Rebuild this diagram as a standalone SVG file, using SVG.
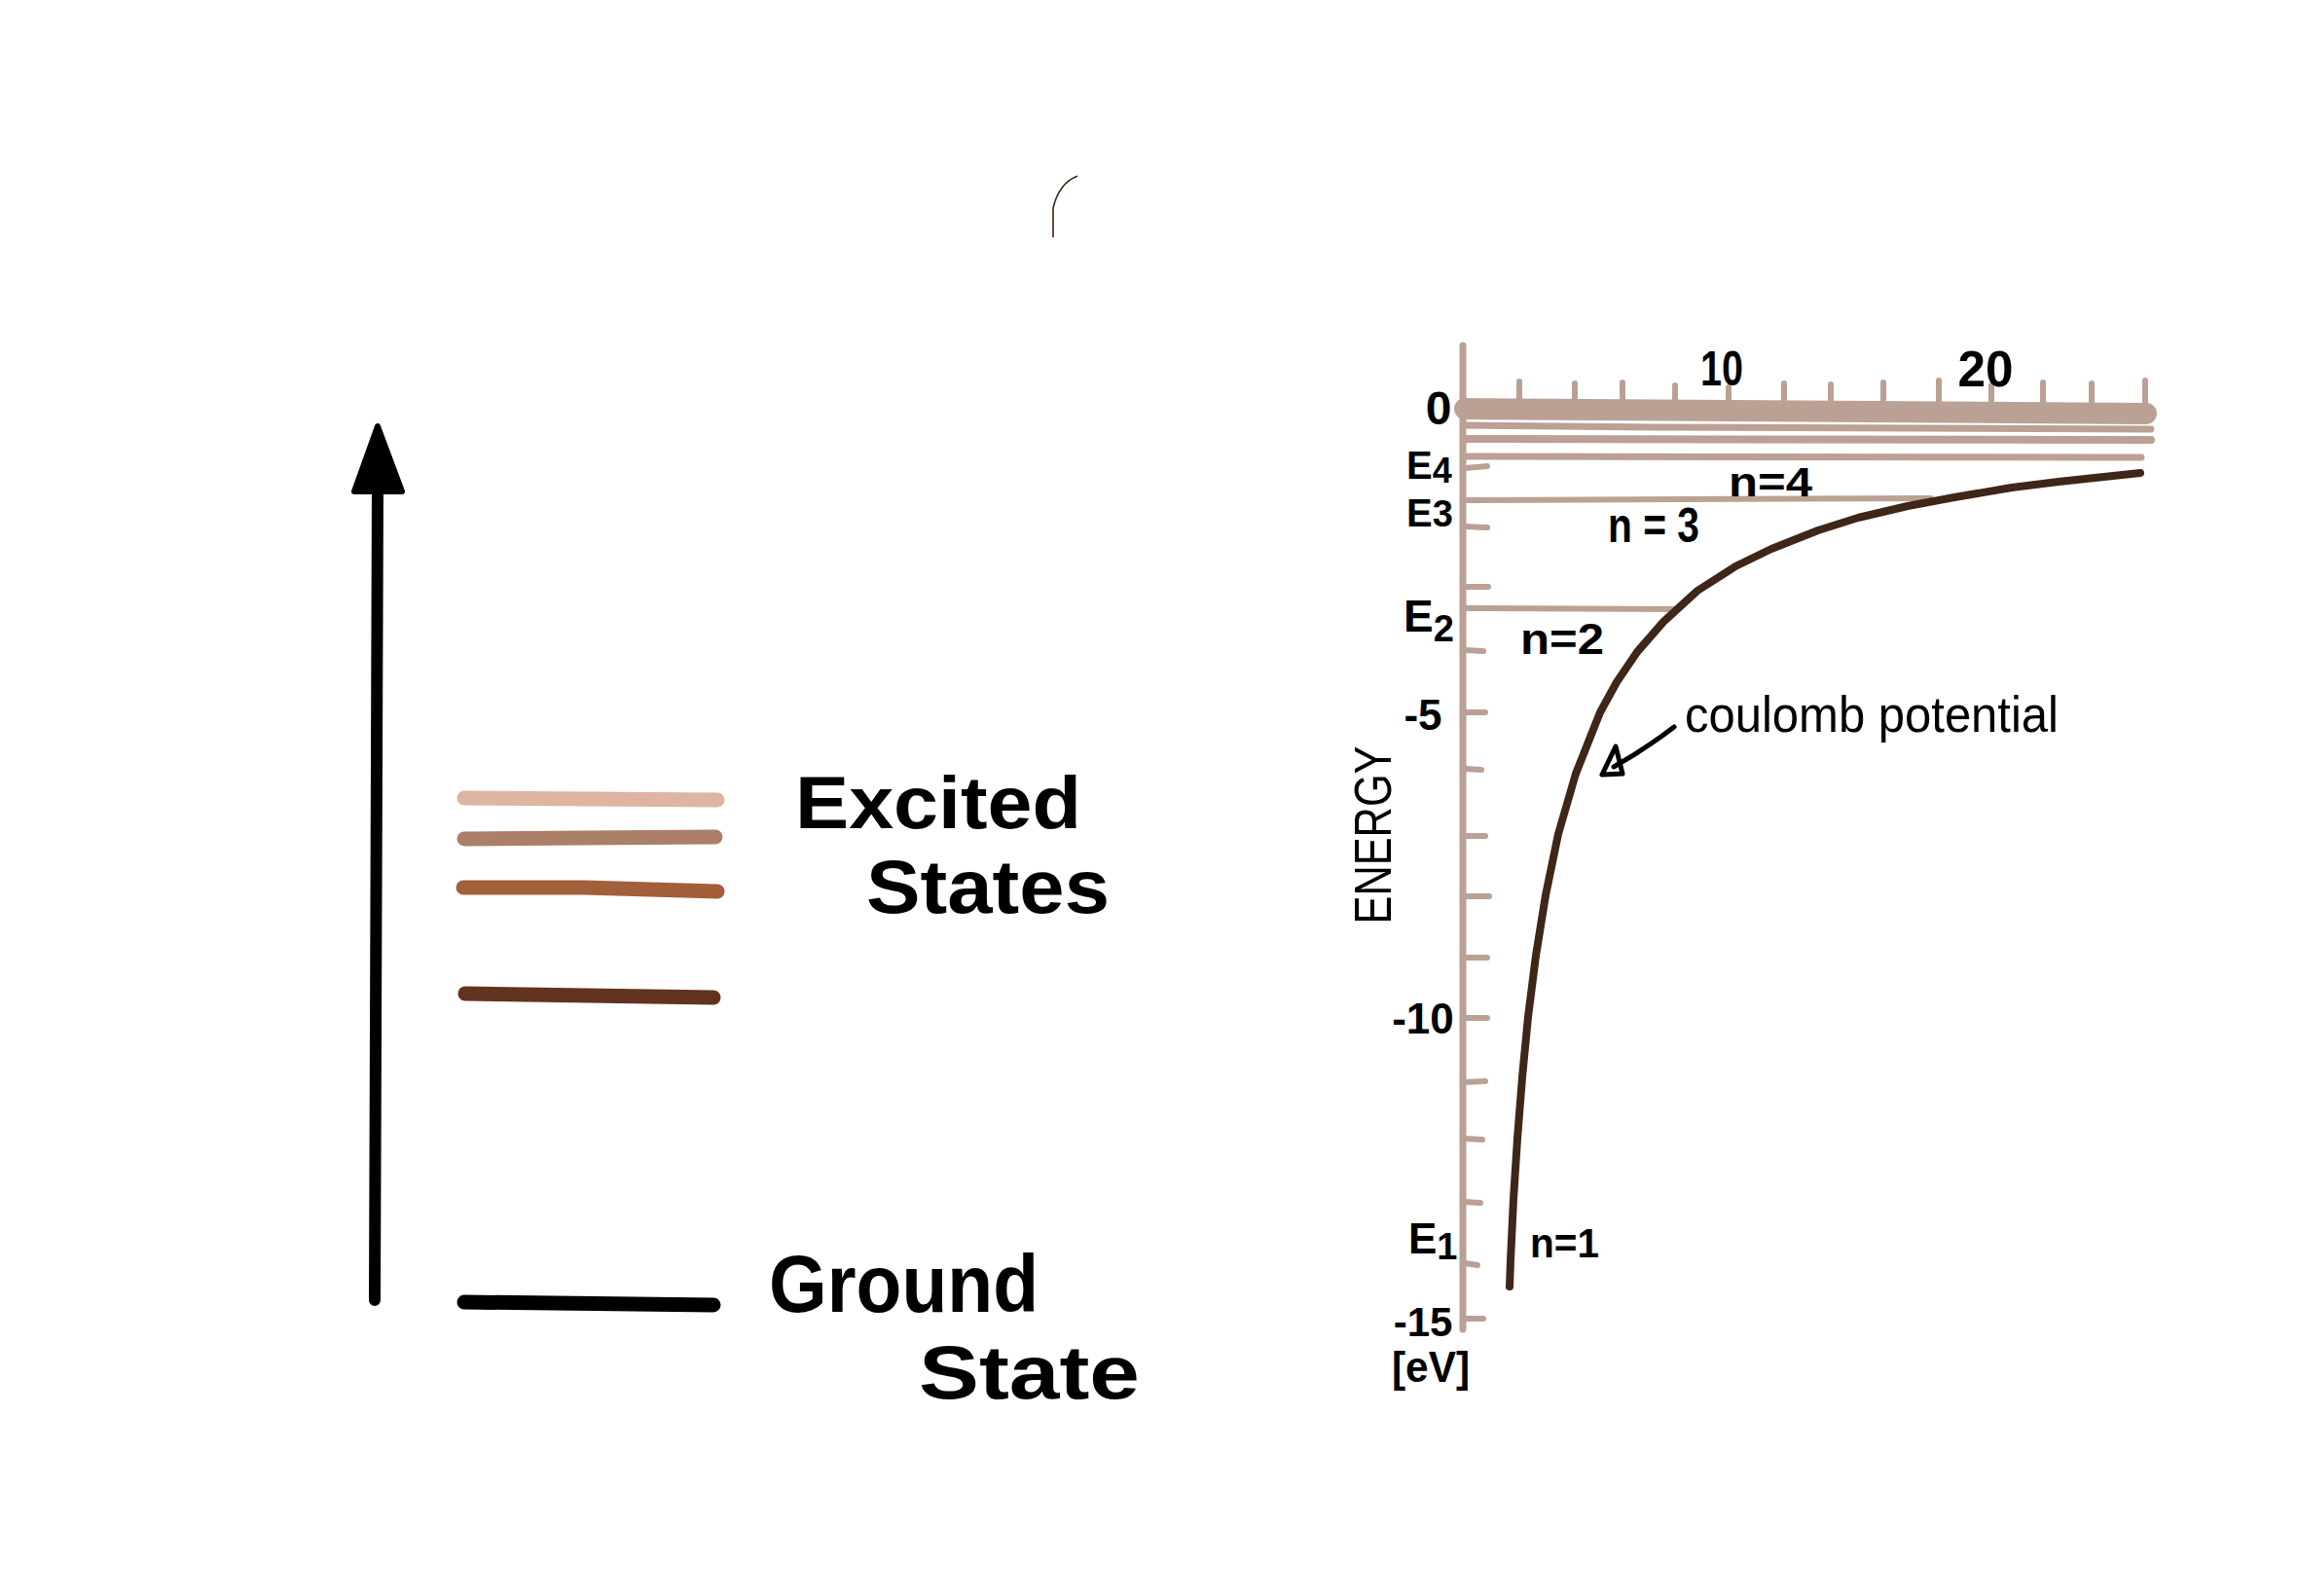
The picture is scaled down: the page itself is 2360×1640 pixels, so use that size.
<svg xmlns="http://www.w3.org/2000/svg" width="2360" height="1640" viewBox="0 0 2360 1640">
<style>
  .lvl{fill:none;stroke-linecap:round;stroke-width:15}
  .ax{fill:none;stroke:#BBA094;stroke-linecap:round}
  .tk{fill:none;stroke:#BBA094;stroke-linecap:round;stroke-width:6}
  .big{font-family:"Liberation Sans","DejaVu Sans",sans-serif;font-weight:bold;fill:#000}
  .lab{font-family:"Liberation Sans","DejaVu Sans",sans-serif;font-weight:bold;fill:#000}
  .thin{font-family:"Liberation Sans","DejaVu Sans",sans-serif;font-weight:normal;fill:#000}
</style>
<rect width="2360" height="1640" fill="#fff"/>

<g id="stray-arc">
  <path d="M1082 244 L1082 214 Q1088 188 1107 181" fill="none" stroke="#3b2516" stroke-width="1.6"/>
</g>

<g id="energy-arrow">
  <path d="M385 1336 L388 500" fill="none" stroke="#000" stroke-width="12" stroke-linecap="round"/>
  <path d="M388 438 L364 505 L413 505 Z" fill="#000" stroke="#000" stroke-width="6" stroke-linejoin="round"/>
</g>

<g id="levels">
  <path class="lvl" d="M477 820 L737 822" stroke="#DDB5A2"/>
  <path class="lvl" d="M477 862 L600 861 L735 860" stroke="#AC7F69"/>
  <path class="lvl" d="M476 912 L600 912 L737 916" stroke="#A35E3A"/>
  <path class="lvl" d="M478 1021 L733 1025" stroke="#62331E"/>
  <path class="lvl" d="M477 1338 L733 1341" stroke="#000" stroke-width="17"/>
</g>

<g id="label-excited">
  <text class="big" x="817" y="851" font-size="76" textLength="294" lengthAdjust="spacingAndGlyphs">Excited</text>
  <text class="big" x="890" y="938" font-size="78" textLength="250" lengthAdjust="spacingAndGlyphs">States</text>
</g>
<g id="label-ground">
  <text class="big" x="790" y="1348" font-size="84" textLength="277" lengthAdjust="spacingAndGlyphs">Ground</text>
  <text class="big" x="944" y="1437" font-size="78" textLength="227" lengthAdjust="spacingAndGlyphs">State</text>
</g>

<g id="graph-axis">
  <path class="ax" d="M1503 355 L1503 1366" stroke-width="7"/>
  <g class="ticks-top">
    <path class="tk" d="M1561 392 V412"/>
    <path class="tk" d="M1618 394 V412"/>
    <path class="tk" d="M1667 393 V412"/>
    <path class="tk" d="M1721 396 V412"/>
    <path class="tk" d="M1776 398 V412"/>
    <path class="tk" d="M1833 394 V413"/>
    <path class="tk" d="M1881 395 V413"/>
    <path class="tk" d="M1935 393 V413"/>
    <path class="tk" d="M1992 391 V413"/>
    <path class="tk" d="M2046 396 V414"/>
    <path class="tk" d="M2099 393 V414"/>
    <path class="tk" d="M2149 394 V414"/>
    <path class="tk" d="M2204 391 V414"/>
  </g>
  <g class="ticks-left">
    <path class="tk" d="M1505 481 L1528 479"/>
    <path class="tk" d="M1505 541 L1528 542"/>
    <path class="tk" d="M1505 603 L1529 603"/>
    <path class="tk" d="M1505 668 L1524 669"/>
    <path class="tk" d="M1505 732 L1526 732"/>
    <path class="tk" d="M1505 790 L1522 791"/>
    <path class="tk" d="M1505 859 L1526 859"/>
    <path class="tk" d="M1505 921 L1530 921"/>
    <path class="tk" d="M1505 984 L1528 984"/>
    <path class="tk" d="M1505 1046 L1528 1046"/>
    <path class="tk" d="M1505 1112 L1526 1111"/>
    <path class="tk" d="M1505 1170 L1523 1171"/>
    <path class="tk" d="M1505 1235 L1521 1236"/>
    <path class="tk" d="M1505 1298 L1518 1300"/>
    <path class="tk" d="M1505 1355 L1524 1355"/>
  </g>
</g>

<g id="energy-lines">
  <path d="M1505 420 L2205 425" fill="none" stroke="#BBA094" stroke-width="22" stroke-linecap="round"/>
  <path d="M1505 437 L1700 439 L2210 441" fill="none" stroke="#BBA094" stroke-width="7" stroke-linecap="round"/>
  <path d="M1505 451 L2210 452" fill="none" stroke="#BBA094" stroke-width="8" stroke-linecap="round"/>
  <path d="M1505 469 L2200 470" fill="none" stroke="#BBA094" stroke-width="7" stroke-linecap="round"/>
  <path d="M1505 514 L1984 512" fill="none" stroke="#BBA094" stroke-width="6" stroke-linecap="round"/>
  <path d="M1505 625 L1723 626" fill="none" stroke="#BBA094" stroke-width="6" stroke-linecap="round"/>
</g>

<g id="coulomb-curve">
  <path d="M1551 1322 L1552 1295 L1555 1232 L1559 1170 L1564 1107 L1570 1045 L1578 982 L1588 920 L1601 857 L1619 795 L1644 732 L1661 701 L1682 670 L1709 639 L1744 607 L1783 582 L1820 564 L1868 545 L1909 532 L1960 520 L2008 511 L2067 501 L2115 495 L2171 489 L2199 486" fill="none" stroke="#3E2618" stroke-width="8" stroke-linecap="round" stroke-linejoin="round"/>
</g>

<g id="connectors">
  <path d="M1720 747 Q1690 770 1658 788" fill="none" stroke="#000" stroke-width="5" stroke-linecap="round"/>
  <path d="M1660 767 L1646 796 L1667 795 Z" fill="none" stroke="#000" stroke-width="5" stroke-linejoin="round"/>
</g>

<g id="axis-labels">
  <text class="lab" x="1478" y="436" font-size="48" text-anchor="middle">0</text>
  <text class="lab" x="1769" y="396" font-size="50" text-anchor="middle" textLength="44" lengthAdjust="spacingAndGlyphs">10</text>
  <text class="lab" x="2040" y="397" font-size="52" text-anchor="middle" textLength="57" lengthAdjust="spacingAndGlyphs">20</text>
  <text class="lab" x="1445" y="492" font-size="40">E<tspan font-size="36" dy="4">4</tspan></text>
  <text class="lab" x="1445" y="541" font-size="40">E<tspan font-size="38">3</tspan></text>
  <text class="lab" x="1442" y="649" font-size="46">E<tspan font-size="38" dy="10">2</tspan></text>
  <text class="lab" x="1447" y="1288" font-size="44">E<tspan font-size="38" dy="6">1</tspan></text>
  <text class="lab" x="1462" y="750" font-size="44" text-anchor="middle">-5</text>
  <text class="lab" x="1462" y="1062" font-size="44" text-anchor="middle">-10</text>
  <text class="lab" x="1462" y="1373" font-size="42" text-anchor="middle">-15</text>
  <text class="lab" x="1470" y="1420" font-size="44" text-anchor="middle" textLength="80" lengthAdjust="spacingAndGlyphs">[eV]</text>
  <text class="thin" transform="translate(1429 858) rotate(-90)" font-size="54" text-anchor="middle" textLength="183" lengthAdjust="spacingAndGlyphs">ENERGY</text>
</g>

<g id="level-labels">
  <text class="lab" x="1776" y="510" font-size="42" textLength="86" lengthAdjust="spacingAndGlyphs">n=4</text>
  <text class="lab" x="1652" y="557" font-size="50" textLength="94" lengthAdjust="spacingAndGlyphs">n = 3</text>
  <text class="lab" x="1562" y="672" font-size="44" textLength="86" lengthAdjust="spacingAndGlyphs">n=2</text>
  <text class="lab" x="1572" y="1292" font-size="42" textLength="71" lengthAdjust="spacingAndGlyphs">n=1</text>
</g>

<g id="label-coulomb">
  <text class="thin" x="1731" y="752" font-size="52" textLength="384" lengthAdjust="spacingAndGlyphs">coulomb potential</text>
</g>
</svg>
